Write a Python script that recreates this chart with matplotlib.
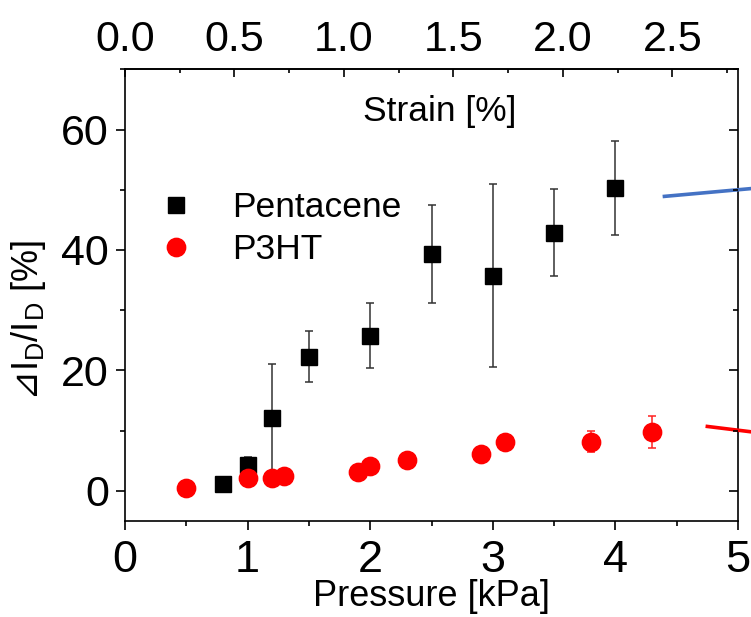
import matplotlib
matplotlib.use("Agg")
import matplotlib.pyplot as plt
from matplotlib.ticker import MultipleLocator, FixedLocator, FormatStrFormatter
from matplotlib.lines import Line2D

plt.rcParams['font.family'] = ['Liberation Sans', 'DejaVu Sans']
plt.rcParams['mathtext.fontset'] = 'custom'
plt.rcParams['mathtext.rm'] = 'Liberation Sans'
plt.rcParams['mathtext.it'] = 'Liberation Sans:italic'
plt.rcParams['mathtext.sf'] = 'DejaVu Sans'

# ---- data ----
pent_p = [0.8, 1.0, 1.2, 1.5, 2.0, 2.5, 3.0, 3.5, 4.0]
pent_y = [1.1, 4.3, 12.1, 22.3, 25.8, 39.3, 35.7, 42.9, 50.3]
pent_err = [0.5, 1.3, 9.0, 4.3, 5.4, 8.1, 15.2, 7.2, 7.8]

p3ht_p = [0.5, 1.0, 1.2, 1.3, 1.9, 2.0, 2.3, 2.9, 3.1, 3.8, 4.3]
p3ht_y = [0.55, 2.2, 2.1, 2.5, 3.1, 4.1, 5.2, 6.2, 8.1, 8.2, 9.8]
p3ht_err = [0.3, 0.3, 0.3, 0.3, 0.3, 0.3, 0.3, 0.3, 0.3, 1.7, 2.7]

STRAIN_PER_KPA = 0.56
strain_major = [0.0, 0.5, 1.0, 1.5, 2.0, 2.5]
strain_minor = [0.25, 0.75, 1.25, 1.75, 2.25, 2.75]

# connector lines leading out of the panel (data coords)
blue_x = [4.40, 5.11]
blue_y = [48.9, 50.2]
red_x = [4.75, 5.11]
red_y = [10.7, 9.8]

W, H = 751, 617
fig = plt.figure(figsize=(W / 100, H / 100), dpi=100)
ax = fig.add_axes([125 / W, 1 - 521 / H, (738 - 125) / W, (521 - 69.3) / H])

ax.errorbar(pent_p, pent_y, yerr=pent_err, fmt='none',
            ecolor='#333333', elinewidth=1.1, capsize=3.2, capthick=1.1, zorder=2)
ax.plot(pent_p, pent_y, 's', color='black', ms=12, zorder=3)
ax.errorbar(p3ht_p, p3ht_y, yerr=p3ht_err, fmt='none',
            ecolor='#ff2020', elinewidth=1.1, capsize=3.2, capthick=1.1, zorder=2)
ax.plot(p3ht_p, p3ht_y, 'o', color='#ff0000', ms=13.2, zorder=4)

ax.plot(blue_x, blue_y, color='#4472c4', lw=2.6, clip_on=False, zorder=5)
ax.plot(red_x, red_y, color='#ff0000', lw=2.6, clip_on=False, zorder=5)

ax.set_xlim(0, 5)
ax.set_ylim(-5, 70)
ax.xaxis.set_major_locator(MultipleLocator(1))
ax.xaxis.set_minor_locator(MultipleLocator(0.5))
ax.yaxis.set_major_locator(MultipleLocator(20))
ax.yaxis.set_minor_locator(MultipleLocator(10))

for s in ax.spines.values():
    s.set_linewidth(1.2)

ax.tick_params(axis='x', which='both', bottom=True, top=False, direction='out',
               labelsize=32.5, pad=7, width=1.2)
ax.tick_params(axis='y', which='both', left=True, right=False, direction='out',
               labelsize=31, pad=5, width=1.2)
ax.tick_params(which='major', length=6.5)
ax.tick_params(which='minor', length=3.6)

axr = ax.twinx()
axr.set_ylim(ax.get_ylim())
axr.yaxis.set_major_locator(MultipleLocator(20))
axr.yaxis.set_minor_locator(MultipleLocator(10))
axr.tick_params(axis='y', which='both', direction='in', labelright=False, width=1.2)
axr.tick_params(axis='y', which='major', length=6.5)
axr.tick_params(axis='y', which='minor', length=3.6)
for s in axr.spines.values():
    s.set_visible(False)

secax = ax.secondary_xaxis('top', functions=(lambda p: p * STRAIN_PER_KPA,
                                              lambda s: s / STRAIN_PER_KPA))
secax.xaxis.set_major_locator(FixedLocator(strain_major))
secax.xaxis.set_minor_locator(FixedLocator(strain_minor))
secax.xaxis.set_major_formatter(FormatStrFormatter('%.1f'))
secax.tick_params(axis='x', which='both', direction='in', labelsize=31, pad=7, width=1.2)
secax.tick_params(axis='x', which='major', length=6)
secax.tick_params(axis='x', which='minor', length=3)
secax.spines['top'].set_linewidth(1.2)
secax.set_xlabel('Strain [%]', fontsize=25.5)
secax.xaxis.set_label_coords(0.514, 0.885, transform=ax.transAxes)

ax.set_xlabel('Pressure [kPa]', fontsize=26, labelpad=-1)
ax.set_ylabel('$\\mathsf{⊿}$I$_\\mathrm{D}$/I$_\\mathrm{D}$ [%]', fontsize=26)
ax.yaxis.set_label_coords(-0.125, 0.445)

handles = [Line2D([], [], ls='none', marker='s', color='black', ms=12),
           Line2D([], [], ls='none', marker='o', color='#ff0000', ms=13.2)]
ax.legend(handles, ['Pentacene', 'P3HT'], loc='upper left',
          bbox_to_anchor=(0.054, 0.73), frameon=False,
          fontsize=25.5, handlelength=1.0, handletextpad=1.08, borderpad=0,
          borderaxespad=0, labelspacing=0.26)

fig.savefig('out.png', dpi=100)
